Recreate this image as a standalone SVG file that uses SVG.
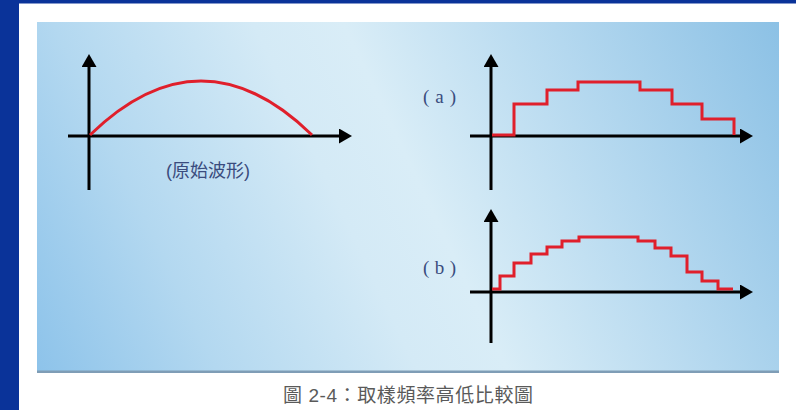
<svg xmlns="http://www.w3.org/2000/svg" width="796" height="410" viewBox="0 0 796 410">
  <defs>
    <linearGradient id="panelGrad" gradientUnits="userSpaceOnUse" x1="779" y1="22" x2="37" y2="373">
      <stop offset="0" stop-color="#8cc1e5"/>
      <stop offset="0.25" stop-color="#b4d8ef"/>
      <stop offset="0.48" stop-color="#d9edf7"/>
      <stop offset="0.58" stop-color="#d4eaf6"/>
      <stop offset="0.8" stop-color="#b3d8f0"/>
      <stop offset="1" stop-color="#8dc3ea"/>
    </linearGradient>
    <marker id="arrow" markerUnits="userSpaceOnUse" markerWidth="14" markerHeight="15" refX="1" refY="7.5" orient="auto">
      <path d="M0,0 L13,7.5 L0,15 z" fill="#000"/>
    </marker>
  </defs>
  <style>
    .axis { stroke: #000; stroke-width: 3; fill: none; marker-end: url(#arrow); }
    .wave { stroke: #e01f2b; stroke-width: 3; fill: none; stroke-linejoin: miter; }
    .lbl { font-family: "Liberation Sans", "Noto Sans CJK TC", sans-serif; fill: #3a4c7e; }
    .lblser { font-family: "Liberation Serif", "Noto Sans CJK TC", serif; fill: #3a4d7e; }
    .cap { font-family: "Liberation Sans", "Noto Sans CJK TC", sans-serif; fill: #5a5a5a; }
  </style>

  <!-- background -->
  <rect x="0" y="0" width="796" height="410" fill="#ffffff"/>
  <rect x="0" y="0" width="796" height="3.5" fill="#0a3399"/>
  <rect x="0" y="0" width="19" height="410" fill="#0a3399"/>

  <!-- panel -->
  <g id="panel">
    <rect x="37" y="22" width="742" height="351" fill="url(#panelGrad)"/>
    <rect x="37" y="370.5" width="742" height="2.5" fill="#7f9db6"/>
  </g>

  <!-- axes / connectors -->
  <g id="connectors">
    <line class="axis" x1="89" y1="190" x2="89" y2="66"/>
    <line class="axis" x1="68" y1="136" x2="340" y2="136"/>
    <line class="axis" x1="491" y1="190" x2="491" y2="66"/>
    <line class="axis" x1="470" y1="136" x2="741" y2="136"/>
    <line class="axis" x1="491" y1="343" x2="491" y2="221"/>
    <line class="axis" x1="470" y1="292" x2="741" y2="292"/>
  </g>

  <g id="original">
    <path class="wave" d="M90,135 Q201,27 312,135"/>
    <text class="lbl" x="208" y="177" font-size="18" text-anchor="middle">(原始波形)</text>
  </g>

  <g id="graph-a">
    <path class="wave" d="M492,135 H514 V104 H547 V90 H578 V82 H640 V90 H672 V104 H702 V119 H734 V135"/>
    <text class="lblser" x="423" y="103" font-size="19" textLength="33" lengthAdjust="spacing">( a )</text>
  </g>

  <g id="graph-b">
    <path class="wave" stroke-width="2.6" d="M492,289 H500 V276 H514 V263 H531 V254 H547 V247 H562 V241 H579 V237 H638 V241 H655 V248 H671 V256 H687 V272 H702 V281 H718 V289 H733"/>
    <text class="lblser" x="423" y="274" font-size="19" textLength="33" lengthAdjust="spacing">( b )</text>
  </g>

  <g id="caption">
    <text class="cap" x="283" y="402" font-size="19" textLength="250" lengthAdjust="spacing">圖 2-4：取樣頻率高低比較圖</text>
  </g>
</svg>
